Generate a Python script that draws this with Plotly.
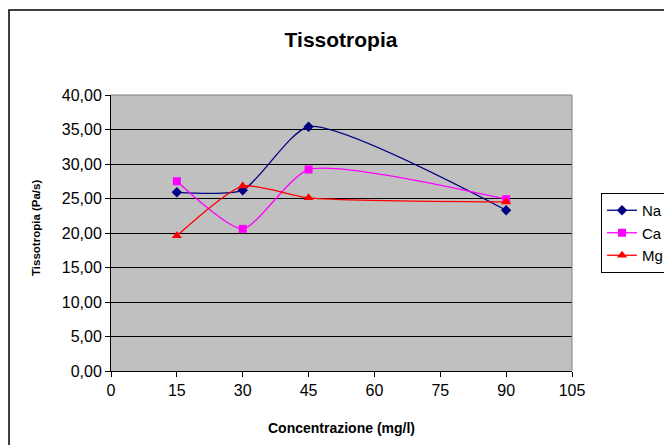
import plotly.graph_objects as go

x_vals = [15, 30, 45, 90]
na_vals = [25.9, 26.2, 35.4, 23.3]
ca_vals = [27.5, 20.6, 29.2, 24.9]
mg_vals = [19.6, 26.8, 25.1, 24.5]
series_names = ["Na", "Ca", "Mg"]
x_ticks = [0, 15, 30, 45, 60, 75, 90, 105]
y_ticks = [0, 5, 10, 15, 20, 25, 30, 35, 40]

colors = ["#000080", "#FF00FF", "#FF0000"]
symbols = ["diamond", "square", "triangle-up"]
sizes = [8, 8, 9]

fig = go.Figure()
for name, vals, c, s, sz in zip(series_names, [na_vals, ca_vals, mg_vals], colors, symbols, sizes):
    fig.add_trace(go.Scatter(
        x=x_vals, y=vals, name=name, mode="lines+markers",
        line=dict(color=c, width=1.3, shape="spline", smoothing=0.6),
        marker=dict(symbol=s, color=c, size=sz, line=dict(width=0)),
    ))

W, H = 664, 445
L, T, R, B = 111, 95, 572, 371
pw, ph = R - L, B - T

def px(xp):
    return (xp - L) / pw

def py(yp):
    return (B - yp) / ph

fig.update_layout(
    width=W, height=H,
    margin=dict(l=L, r=W - R, t=T, b=H - B, pad=0, autoexpand=False),
    paper_bgcolor="white",
    plot_bgcolor="#C0C0C0",
    separators=",.",
    font=dict(family="Liberation Sans, Arial, sans-serif", size=16, color="black"),
    title=dict(text="<b>Tissotropia</b>", x=341 / W, xanchor="center",
               y=1 - 40 / H, yanchor="middle", font=dict(size=21)),
    showlegend=True,
    legend=dict(x=px(601), y=py(193), xanchor="left", yanchor="top",
                bordercolor="black", borderwidth=1, bgcolor="white",
                font=dict(size=15), itemwidth=30, tracegroupgap=2),
    xaxis=dict(range=[0, 105], tickvals=x_ticks, ticks="outside", ticklen=5,
               tickcolor="black", showline=True, linecolor="black", linewidth=1,
               showgrid=False, zeroline=False, tickfont=dict(size=16)),
    yaxis=dict(range=[0, 40], tickvals=y_ticks, tickformat=".2f", ticks="outside",
               ticklen=5, tickcolor="black", showline=True, linecolor="black",
               linewidth=1, showgrid=True, gridcolor="black", gridwidth=1,
               zeroline=False, tickfont=dict(size=16)),
    annotations=[
        dict(text="<b>Concentrazione (mg/l)</b>", x=px(341), y=py(428),
             xref="paper", yref="paper", showarrow=False, font=dict(size=14),
             xanchor="center", yanchor="middle"),
        dict(text="<b>Tissotropia (Pa/s)</b>", x=px(36), y=py(228),
             xref="paper", yref="paper", showarrow=False, font=dict(size=11.5),
             textangle=-90, xanchor="center", yanchor="middle"),
    ],
    shapes=[
        dict(type="rect", xref="paper", yref="paper",
             x0=px(9), x1=px(700), y0=py(480), y1=py(10),
             line=dict(color="black", width=1.5), layer="below"),
        dict(type="line", xref="paper", yref="paper", x0=0, x1=1, y0=1, y1=1,
             line=dict(color="#808080", width=1)),
        dict(type="line", xref="paper", yref="paper", x0=1, x1=1, y0=0, y1=1,
             line=dict(color="#808080", width=1)),
    ],
)

fig.write_html(
    "out.html",
    config={"displayModeBar": False},
    post_script="document.body.style.margin='0';document.body.style.overflow='hidden';",
)
